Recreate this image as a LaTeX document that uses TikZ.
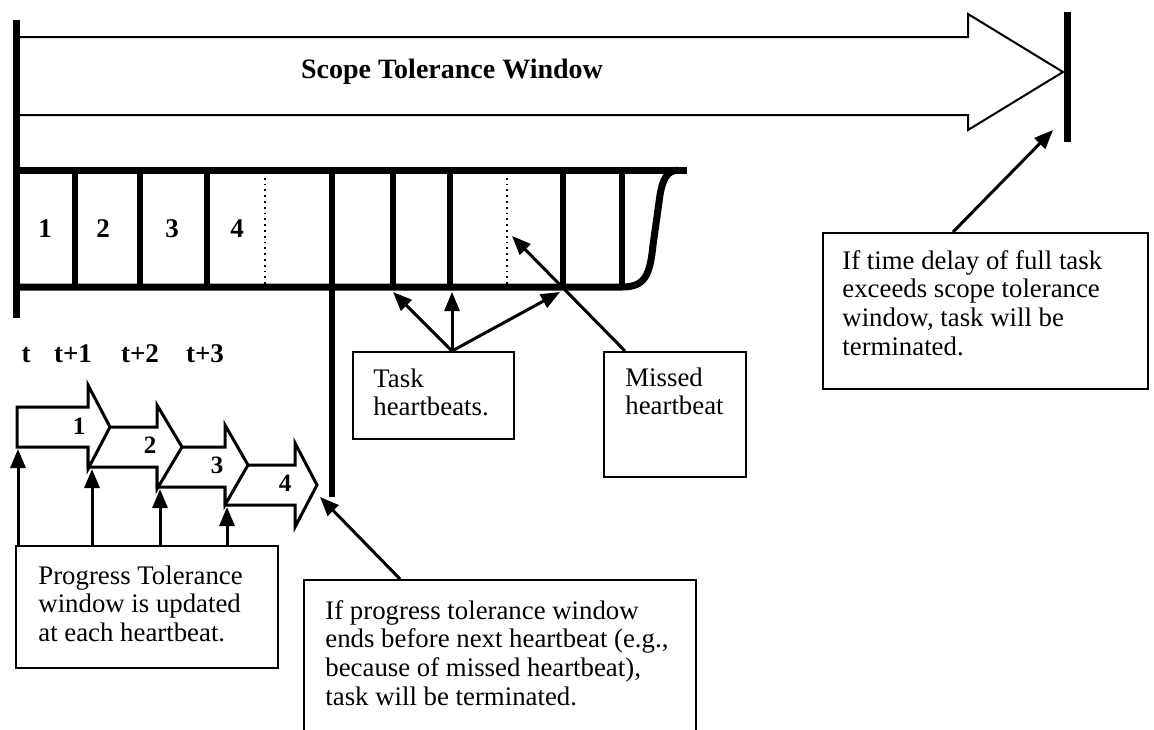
\documentclass[tikz,border=0pt]{standalone}
\usepackage{fontspec}
\setmainfont{Liberation Serif}
\usetikzlibrary{arrows.meta}
\begin{document}
\begin{tikzpicture}[x=0.5pt,y=-0.5pt,
  bar/.style={line width=3.5pt},
  divider/.style={line width=3pt},
  dotdiv/.style={line width=0.9pt, dotted},
  scopearrow/.style={draw, line width=1pt, fill=white, line join=miter},
  progarrow/.style={draw, line width=1.5pt, fill=white, line join=miter},
  box/.style={draw, line width=1pt, inner sep=0pt, anchor=north west},
  boxtext/.style={anchor=north west, align=left, inner sep=0pt,
    font=\fontsize{13.4}{14.3}\selectfont},
  biglabel/.style={inner sep=0pt, font=\fontsize{14}{16}\selectfont\bfseries},
  tlabel/.style={inner sep=0pt, anchor=base, font=\fontsize{13.5}{15}\selectfont\bfseries},
  smalllabel/.style={inner sep=0pt, anchor=base, font=\fontsize{12.5}{14}\selectfont\bfseries},
  pointer/.style={line width=1.5pt, -{Triangle[length=9.5pt,width=7.5pt]}},
]
\useasboundingbox (0,0) rectangle (1154,729);
\clip (0,0) rectangle (1154,729);

% scope tolerance window arrow
\draw[scopearrow] (18,37) -- (968,37) -- (968,14) -- (1063,72) -- (968,130)
  -- (968,115) -- (18,115) -- cycle;
\node[biglabel] (scopelbl) at (452,72) {Scope Tolerance Window};

% task timeline bar
\draw[bar] (16,170) -- (687,170);
\draw[bar] (16,287) -- (622,287) .. controls (645,287) and (650,275) .. (653,245)
  -- (660,195) .. controls (663,178) and (667,171) .. (678,170);
\foreach \x in {75,140,207,393,450,563,622}
  \draw[divider] (\x,170) -- (\x,287);
\foreach \x in {265,507}
  \draw[dotdiv] (\x,172) -- (\x,285);
\draw[divider] (332,170) -- (332,497);

% start and end bars
\draw[bar] (16,20) -- (16,318);
\draw[bar] (1067,12) -- (1067,142);

% heartbeat numbers
\node[tlabel] (c1) at (45,237) {1};
\node[tlabel] (c2) at (103,237) {2};
\node[tlabel] (c3) at (172,237) {3};
\node[tlabel] (c4) at (237,237) {4};

% time labels
\node[tlabel] (t0) at (26,362) {t};
\node[tlabel] (t1) at (73,362) {t+1};
\node[tlabel] (t2) at (140,362) {t+2};
\node[tlabel] (t3) at (205,362) {t+3};

% progress tolerance windows (later ones lie beneath earlier ones)
\draw[progarrow] (225,465) -- (295,465) -- (295,443) -- (317,485) -- (295,527)
  -- (295,505) -- (225,505) -- cycle;
\draw[progarrow] (157,447) -- (225,447) -- (225,425) -- (248,465) -- (225,505)
  -- (225,487) -- (157,487) -- cycle;
\draw[progarrow] (88,427) -- (157,427) -- (157,405) -- (182,447) -- (157,489)
  -- (157,467) -- (88,467) -- cycle;
\draw[progarrow] (17,407) -- (88,407) -- (88,385) -- (110,427) -- (88,469)
  -- (88,447) -- (17,447) -- cycle;
\node[smalllabel] (w1) at (79,434) {1};
\node[smalllabel] (w2) at (150,453) {2};
\node[smalllabel] (w3) at (217,473) {3};
\node[smalllabel] (w4) at (285,491) {4};

% annotation boxes
\node[box, minimum width=80.5pt, minimum height=43.5pt] (task) at (352,351) {};
\node[boxtext] (tasktxt) at (373,368) {Task\\heartbeats.};

\node[box, minimum width=71pt, minimum height=62.5pt] (missed) at (603,351) {};
\node[boxtext] (missedtxt) at (625,367) {Missed\\heartbeat};

\node[box, minimum width=162.5pt, minimum height=78pt] (scopenote) at (822,232) {};
\node[boxtext] (scopetxt) at (842,250) {If time delay of full task\\exceeds scope tolerance\\window, task will be\\terminated.};

\node[box, minimum width=131pt, minimum height=61pt] (prog) at (15,545) {};
\node[boxtext] (progtxt) at (38,565) {Progress Tolerance\\window is updated\\at each heartbeat.};

\node[box, minimum width=196pt, minimum height=85pt] (ends) at (303,579) {};
\node[boxtext] (endstxt) at (325,600) {If progress tolerance window\\ends before next heartbeat (e.g.,\\because of missed heartbeat),\\task will be terminated.};

% pointer targets
\coordinate (hbA) at (393,292);
\coordinate (hbB) at (452,292);
\coordinate (hbC) at (560,292);
\coordinate (miss) at (512,236);
\coordinate (scopeend) at (1053,130);
\coordinate (progend) at (320,497);
\coordinate (pw1) at (18,449);
\coordinate (pw2) at (92,469);
\coordinate (pw3) at (160,489);
\coordinate (pw4) at (227,507);

% pointers
\draw[pointer] ([xshift=50pt]task.north west) -- (hbA);
\draw[pointer] ([xshift=50pt]task.north west) -- (hbB);
\draw[pointer] ([xshift=50pt]task.north west) -- (hbC);
\draw[pointer] ([xshift=11pt]missed.north west) -- (miss);
\draw[pointer] ([xshift=65.5pt]scopenote.north west) -- (scopeend);
\draw[pointer] ([xshift=48.5pt]ends.north west) -- (progend);
\draw[pointer] ([xshift=1.5pt]prog.north west) -- (pw1);
\draw[pointer] ([xshift=38.5pt]prog.north west) -- (pw2);
\draw[pointer] ([xshift=72.5pt]prog.north west) -- (pw3);
\draw[pointer] ([xshift=106pt]prog.north west) -- (pw4);
\end{tikzpicture}
\end{document}
